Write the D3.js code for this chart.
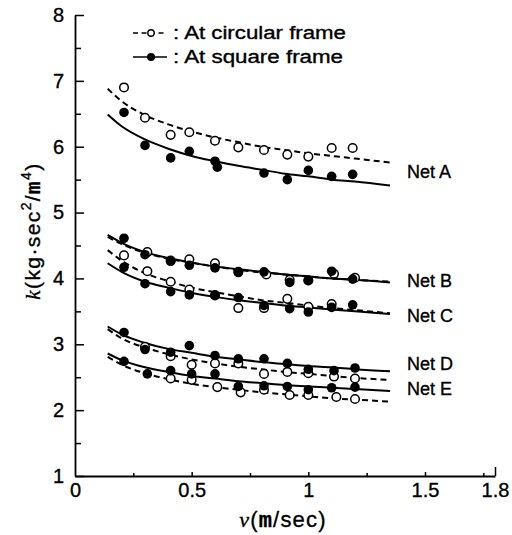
<!DOCTYPE html>
<html>
<head>
<meta charset="utf-8">
<script src="https://cdn.jsdelivr.net/npm/d3@7"></script>
<style>
  body { margin: 0; background: #fff; }
  svg { display: block; }
  text { stroke: #000; stroke-width: 0.35px; }
</style>
</head>
<body>
<svg id="chart" width="512" height="535"></svg>
<script>
// ---- axis ticks ----
const xTickValues = [0, 0.5, 1, 1.5, 1.8];
const xMinorTicks = [0.25, 0.75, 1.25, 1.75];
const yTickValues = [1, 2, 3, 4, 5, 6, 7, 8];
const yMinorTicks = [1.5, 2.5, 3.5, 4.5, 5.5, 6.5, 7.5];

// ---- measured points [v (m/sec), k] ----
const netACircular = [[0.21,6.90],[0.30,6.44],[0.41,6.18],[0.49,6.22],[0.60,6.09],[0.70,5.99],[0.81,5.95],[0.91,5.88],[1.00,5.85],[1.10,5.98],[1.19,5.98]];
const netASquare   = [[0.21,6.52],[0.30,6.02],[0.41,5.83],[0.49,5.93],[0.60,5.78],[0.61,5.69],[0.81,5.60],[0.91,5.50],[1.00,5.64],[1.10,5.55],[1.19,5.58]];
const netBCircular = [[0.31,4.40],[0.41,4.27],[0.49,4.29],[0.60,4.23],[0.70,4.10],[0.82,4.06],[0.92,3.98],[1.00,3.97],[1.11,4.07],[1.20,4.01]];
const netBSquare   = [[0.21,4.61],[0.30,4.36],[0.41,4.26],[0.49,4.20],[0.60,4.16],[0.70,4.09],[0.81,4.10],[0.92,3.94],[1.00,3.97],[1.10,4.11],[1.19,3.99]];
const netCCircular = [[0.21,4.35],[0.31,4.11],[0.41,3.95],[0.49,3.83],[0.60,3.74],[0.70,3.55],[0.81,3.55],[0.91,3.69],[1.00,3.57],[1.10,3.61]];
const netCSquare   = [[0.21,4.17],[0.30,3.92],[0.41,3.80],[0.49,3.75],[0.60,3.75],[0.70,3.71],[0.81,3.59],[0.92,3.54],[1.00,3.49],[1.10,3.56],[1.19,3.60]];
const netDCircular = [[0.30,2.96],[0.41,2.82],[0.50,2.69],[0.60,2.71],[0.70,2.71],[0.81,2.55],[0.91,2.58],[1.00,2.56],[1.11,2.51],[1.20,2.48]];
const netDSquare   = [[0.21,3.18],[0.30,2.92],[0.41,2.88],[0.49,2.98],[0.60,2.83],[0.70,2.78],[0.81,2.78],[0.91,2.71],[1.00,2.62],[1.11,2.60],[1.20,2.64]];
const netECircular = [[0.41,2.48],[0.50,2.46],[0.61,2.35],[0.71,2.27],[0.81,2.31],[0.92,2.23],[1.00,2.23],[1.12,2.20],[1.20,2.17]];
const netESquare   = [[0.21,2.74],[0.31,2.55],[0.41,2.60],[0.50,2.55],[0.60,2.55],[0.70,2.36],[0.81,2.37],[0.91,2.36],[1.00,2.31],[1.10,2.34],[1.20,2.35]];

// ---- fitted curves, k read at these velocities ----
const fitV = [0.14, 0.2, 0.3, 0.4, 0.5, 0.6, 0.7, 0.8, 0.9, 1.0, 1.1, 1.2, 1.35];
const netACircularFit = [6.88, 6.69, 6.48, 6.34, 6.23, 6.14, 6.07, 6.00, 5.95, 5.90, 5.86, 5.82, 5.76];
const netASquareFit   = [6.49, 6.31, 6.11, 5.97, 5.86, 5.78, 5.71, 5.65, 5.59, 5.55, 5.50, 5.47, 5.41];
const netBCircularFit = [4.63, 4.52, 4.39, 4.30, 4.24, 4.18, 4.13, 4.09, 4.06, 4.03, 4.00, 3.98, 3.95];
const netBSquareFit   = [4.66, 4.54, 4.40, 4.31, 4.24, 4.18, 4.14, 4.10, 4.06, 4.03, 4.00, 3.98, 3.94];
const netCCircularFit = [4.43, 4.27, 4.08, 3.96, 3.86, 3.79, 3.73, 3.67, 3.63, 3.59, 3.55, 3.52, 3.47];
const netCSquareFit   = [4.23, 4.10, 3.95, 3.86, 3.78, 3.72, 3.67, 3.63, 3.59, 3.56, 3.53, 3.50, 3.46];
const netDCircularFit = [3.23, 3.09, 2.95, 2.85, 2.77, 2.71, 2.66, 2.62, 2.58, 2.55, 2.52, 2.49, 2.46];
const netDSquareFit   = [3.27, 3.15, 3.02, 2.93, 2.87, 2.81, 2.77, 2.73, 2.70, 2.67, 2.65, 2.62, 2.59];
const netECircularFit = [2.81, 2.69, 2.56, 2.47, 2.40, 2.35, 2.31, 2.27, 2.24, 2.21, 2.18, 2.16, 2.13];
const netESquareFit   = [2.86, 2.76, 2.65, 2.58, 2.52, 2.48, 2.44, 2.41, 2.38, 2.36, 2.34, 2.32, 2.29];

const netNames = ["Net A", "Net B", "Net C", "Net D", "Net E"];
const legendLabels = [": At circular frame", ": At square frame"];

// ---- build series table ----
const circularPoints = [netACircular, netBCircular, netCCircular, netDCircular, netECircular];
const squarePoints   = [netASquare, netBSquare, netCSquare, netDSquare, netESquare];
const circularFits   = [netACircularFit, netBCircularFit, netCCircularFit, netDCircularFit, netECircularFit];
const squareFits     = [netASquareFit, netBSquareFit, netCSquareFit, netDSquareFit, netESquareFit];
const toCurve = ks => fitV.map((v, i) => [v, ks[i]]);

// ---- layout ----
const FONT = "'Liberation Sans', Arial, Helvetica, sans-serif";
const svg = d3.select("#chart");
const x = d3.scaleLinear().domain([0, 1.8]).range([75, 495]);
const y = d3.scaleLinear().domain([1, 8]).range([476, 15]);
const labelY = [172, 281, 316, 364, 389];

// y axis: major ticks with labels, minor ticks in between
svg.append("g")
  .attr("transform", `translate(${x(0)},0)`)
  .call(d3.axisLeft(y).tickValues(yTickValues).tickFormat(d3.format("d"))
        .tickSizeInner(-9).tickSizeOuter(0).tickPadding(11));
svg.append("g")
  .attr("transform", `translate(${x(0)},0)`)
  .call(d3.axisLeft(y).tickValues(yMinorTicks).tickFormat("")
        .tickSizeInner(-6).tickSizeOuter(0))
  .call(g => g.select(".domain").remove());

// x axis
const xAxis = svg.append("g")
  .attr("transform", `translate(0,${y(1)})`)
  .call(d3.axisBottom(x).tickValues(xTickValues).tickFormat(d => String(d))
        .tickSizeInner(-4).tickSizeOuter(0).tickPadding(7));
xAxis.selectAll(".tick").filter(d => d === 1.8).select("line").attr("y2", -9);
xAxis.selectAll(".tick").filter(d => d === 0).select("line").remove();
svg.append("g")
  .attr("transform", `translate(0,${y(1)})`)
  .call(d3.axisBottom(x).tickValues(xMinorTicks).tickFormat("")
        .tickSizeInner(-3).tickSizeOuter(0))
  .call(g => g.select(".domain").remove());

svg.selectAll(".domain").attr("stroke-width", 1.8);
svg.selectAll(".tick line").attr("stroke-width", 1.5);
svg.selectAll(".tick text")
  .attr("font-family", FONT).attr("font-size", 20).attr("fill", "#000");

// fitted curves
const line = d3.line().x(d => x(d[0])).y(d => y(d[1])).curve(d3.curveMonotoneX);
const curves = svg.append("g").attr("fill", "none").attr("stroke", "#000");
circularFits.forEach(ks => {
  curves.append("path").attr("d", line(toCurve(ks)))
    .attr("stroke-width", 2).attr("stroke-dasharray", "6,4");
});
squareFits.forEach(ks => {
  curves.append("path").attr("d", line(toCurve(ks))).attr("stroke-width", 2);
});

// measured points
const pts = svg.append("g");
circularPoints.forEach(series => {
  pts.selectAll(null).data(series).join("circle")
    .attr("cx", d => x(d[0])).attr("cy", d => y(d[1])).attr("r", 4.3)
    .attr("fill", "#fff").attr("stroke", "#000").attr("stroke-width", 1.5);
});
squarePoints.forEach(series => {
  pts.selectAll(null).data(series).join("circle")
    .attr("cx", d => x(d[0])).attr("cy", d => y(d[1])).attr("r", 4.8)
    .attr("fill", "#000");
});

// net labels at the right end of the curves
svg.append("g").selectAll("text").data(netNames).join("text")
  .attr("x", 407).attr("y", (d, i) => labelY[i]).attr("dy", "0.35em")
  .attr("font-family", FONT).attr("font-size", 18).text(d => d);

// legend
const legend = svg.append("g");
const legendRows = [33, 57];
legendLabels.forEach((label, i) => {
  const yy = legendRows[i];
  const circular = i === 0;
  legend.append("line").attr("x1", 133).attr("x2", 167).attr("y1", yy).attr("y2", yy)
    .attr("stroke", "#000")
    .attr("stroke-width", circular ? 1.6 : 1.3)
    .attr("stroke-dasharray", circular ? "5,3.5" : null);
  legend.append("circle").attr("cx", 151).attr("cy", yy).attr("r", circular ? 3.2 : 4)
    .attr("fill", circular ? "#fff" : "#000")
    .attr("stroke", "#000").attr("stroke-width", circular ? 1.4 : 0);
  legend.append("text").attr("x", 173).attr("y", yy).attr("dy", "0.35em")
    .attr("font-family", FONT).attr("font-size", 18)
    .attr("textLength", circular ? 173 : 170).attr("lengthAdjust", "spacingAndGlyphs")
    .text(label);
});

// axis titles
const yTitle = svg.append("text")
  .attr("transform", "translate(40,231) rotate(-90)")
  .attr("text-anchor", "middle").attr("font-family", FONT).attr("font-size", 21)
  .attr("letter-spacing", 1.4);
yTitle.append("tspan").attr("font-family", "'Liberation Serif', serif").attr("font-style", "italic").text("k");
yTitle.append("tspan").text("(kg·sec");
yTitle.append("tspan").attr("font-size", 14).attr("dy", -9).text("2");
yTitle.append("tspan").attr("dy", 9).text("/");
yTitle.append("tspan").attr("font-family", "'Liberation Mono', monospace").attr("font-weight", "bold").text("m");
yTitle.append("tspan").attr("font-size", 14).attr("dy", -9).text("4");
yTitle.append("tspan").attr("dy", 9).text(")");

const xTitle = svg.append("text")
  .attr("x", 283).attr("y", 527)
  .attr("text-anchor", "middle").attr("font-family", FONT).attr("font-size", 22)
  .attr("letter-spacing", 1.2);
xTitle.append("tspan").attr("font-family", "'Liberation Serif', serif").attr("font-style", "italic").text("v");
xTitle.append("tspan").text("(");
xTitle.append("tspan").attr("font-family", "'Liberation Mono', monospace").attr("font-weight", "bold").text("m");
xTitle.append("tspan").text("/sec)");
</script>
</body>
</html>
